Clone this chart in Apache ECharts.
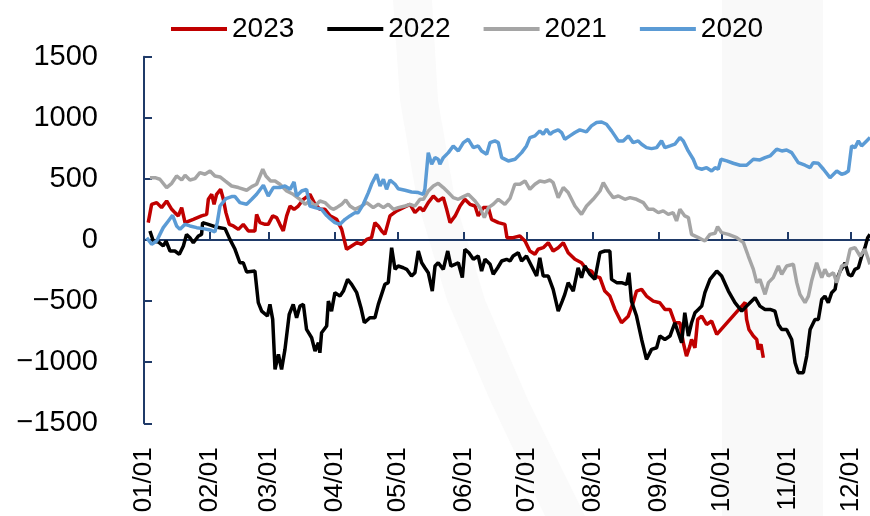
<!DOCTYPE html>
<html>
<head>
<meta charset="utf-8">
<script src="https://cdn.jsdelivr.net/npm/echarts@6/dist/echarts.min.js"></script>
<style>
html,body{margin:0;padding:0;background:#fff;}
#chart{width:870px;height:516px;}
</style>
</head>
<body>
<div id="chart"></div>
<script>
// ---- data (x = day of year, 0 = Jan 1; y = value) ----
const monthStarts = [0, 31, 59, 90, 120, 151, 181, 212, 243, 273, 304, 334];
const monthLabels = ['01/01','02/01','03/01','04/01','05/01','06/01','07/01','08/01','09/01','10/01','11/01','12/01'];
const seriesNames = ['2023', '2022', '2021', '2020'];

const s2023 = [[2,142],[3.6,292],[6,306],[8.3,265],[10.7,319],[13.1,251],[14.6,224],[16.2,197],[17.8,265],[19.4,142],[23.3,169],[27.2,197],[29.6,210],[30.4,333],[32,374],[33.1,292],[34.3,374],[36.2,415],[37.5,333],[38.7,224],[40.3,128],[42.2,115],[44.6,87],[46.9,128],[49.3,74],[52.4,74],[53.2,210],[54.8,142],[57.2,128],[58.7,128],[60.8,197],[62.7,183],[64.2,128],[65.8,74],[67.4,197],[69,278],[70.9,251],[72.9,278],[75.3,333],[78.4,374],[80.8,292],[83.1,251],[85.5,251],[87.9,197],[91,169],[93.4,87],[95.7,-76],[98.1,-49],[100.5,-22],[102.8,-35],[105.2,5],[107.5,19],[109.1,142],[110.7,115],[112.3,74],[113.8,46],[116.2,197],[119.4,238],[122.5,265],[125.7,292],[128,224],[130.4,265],[132,238],[134.3,306],[136.7,360],[139,319],[141.4,347],[143,251],[144.6,142],[147,197],[149.3,278],[151.6,333],[154,292],[156.4,278],[157.9,197],[160.3,265],[162.7,265],[164.2,169],[167.4,142],[170.5,128],[171.5,19],[174.4,19],[177.6,33],[180,-8],[182.3,-90],[184.7,-117],[186.2,-76],[188.6,-63],[191,-22],[193.3,-90],[195.7,-63],[198.1,-22],[200.4,-104],[203.6,-158],[206.7,-186],[209.1,-240],[211.4,-254],[213,-295],[215.4,-308],[217.7,-418],[220.1,-459],[222.5,-568],[225.6,-677],[228.8,-623],[231.1,-513],[232.7,-418],[235.1,-404],[237.4,-459],[240.6,-500],[243.7,-513],[246.1,-568],[248.5,-568],[250.8,-677],[253.2,-677],[254.8,-841],[256.3,-950],[257.9,-868],[258.7,-814],[260.3,-882],[261.6,-650],[263.5,-622],[265.8,-691],[268.2,-663],[270.6,-773],[284,-510],[284.7,-650],[285.8,-732],[287.9,-786],[289.5,-814],[290.2,-895],[291.5,-854],[292.6,-964]];

const s2022 = [[2.8,74],[4.4,-8],[6.8,-16],[9.1,-49],[10.4,-8],[12.3,-90],[14.6,-90],[16.7,-117],[18.6,-49],[20.1,46],[21.7,19],[23.3,-22],[25.7,33],[27.2,46],[27.7,142],[30.4,128],[33.5,109],[35.9,101],[38.3,93],[40.6,5],[43,-76],[45.3,-186],[46.9,-186],[48.5,-262],[52.4,-254],[54,-513],[55.6,-582],[58.3,-622],[59.5,-527],[60.8,-650],[61.9,-1059],[63.5,-936],[65,-1059],[66.6,-895],[68.6,-609],[70.5,-527],[72.1,-636],[73.7,-541],[75.3,-527],[76.8,-732],[79.2,-800],[80.8,-909],[82.4,-841],[83.1,-923],[83.9,-759],[86.3,-704],[87.1,-500],[88.6,-582],[90.2,-431],[92.6,-459],[94.2,-418],[96.2,-322],[98.1,-363],[100.5,-431],[102.5,-554],[104.1,-677],[106.7,-636],[109.1,-636],[110.7,-527],[113.8,-363],[115.4,-349],[117,-63],[118.6,-240],[120.1,-213],[122.5,-227],[124.1,-240],[126.4,-295],[128,-268],[129.6,-90],[131.2,-186],[132.7,-227],[134.3,-268],[136.2,-418],[137.5,-213],[139,-186],[141.4,-240],[143.5,-90],[145,-213],[146.9,-199],[148.5,-186],[150.4,-308],[151.6,-76],[153.5,-104],[155.6,-158],[157.9,-131],[159.5,-254],[161.1,-158],[163.5,-199],[165,-281],[167.1,-227],[169,-172],[171.3,-158],[172.9,-172],[174.4,-131],[176.8,-104],[178.4,-172],[180.7,-131],[183.1,-213],[185.5,-295],[187,-145],[188.6,-295],[191,-295],[193.3,-404],[195.7,-582],[197.6,-500],[198.8,-445],[200.4,-349],[202.8,-418],[205.1,-227],[206.7,-308],[208.3,-213],[210.7,-281],[213,-322],[215.4,-104],[217.7,-90],[220.1,-90],[220.9,-322],[223.3,-349],[225.6,-349],[228,-363],[229.1,-268],[230.3,-500],[232.7,-622],[235.1,-814],[237.4,-977],[239.8,-895],[242.2,-882],[243.7,-786],[246.1,-814],[248.5,-786],[250.8,-677],[252.4,-759],[254,-841],[255.5,-595],[257.2,-786],[258.7,-677],[260.3,-595],[261.9,-568],[263.5,-541],[265,-431],[267.4,-322],[270.6,-254],[272.9,-295],[276.1,-418],[279.2,-513],[282.4,-582],[284.7,-541],[286.3,-513],[288.7,-472],[291,-541],[293.4,-568],[295.8,-568],[298.1,-582],[299.7,-691],[301.3,-732],[303.6,-732],[306,-814],[307.6,-1004],[309.1,-1086],[311.5,-1086],[313.1,-950],[314.7,-732],[317,-650],[318.6,-650],[320.2,-486],[321.7,-459],[323.3,-513],[324.9,-431],[326.5,-404],[327.3,-322],[328.9,-254],[330.4,-213],[331.2,-186],[332.8,-281],[334.3,-295],[335.9,-240],[337.5,-227],[339.1,-131],[340.6,-63],[341.9,19],[343,46]];

const s2021 = [[2.8,510],[5.2,510],[7.5,497],[10.7,429],[13.1,464],[15.4,524],[17.8,491],[19.4,530],[21.7,491],[24.1,502],[26.4,551],[28.8,538],[31.2,565],[33.5,524],[35.9,516],[38.3,483],[41.4,442],[44.6,429],[48.5,407],[50.9,437],[53.2,456],[54.8,524],[56.1,579],[57.6,524],[59.8,483],[61.9,483],[64.2,456],[67.4,401],[70.5,374],[73.7,333],[76.1,292],[78.4,319],[80.8,278],[83.1,319],[85.5,306],[87.9,265],[89.4,251],[91,265],[93.4,292],[95.3,328],[97.3,278],[99.7,251],[102.8,278],[105.2,306],[108.3,265],[110.7,292],[113.1,265],[115.4,292],[117.8,251],[120.1,265],[123.3,278],[125.7,292],[128,278],[130.4,333],[132,333],[134.3,401],[136.7,442],[139,464],[141.4,429],[143.8,388],[146.1,347],[148.5,333],[150.9,355],[153.2,374],[156.4,319],[158.7,265],[160.8,183],[162.7,265],[165,292],[167.4,333],[170.5,292],[172.9,340],[175.2,456],[177.6,456],[180,483],[182.3,415],[184.7,456],[187,483],[189.4,475],[191.8,491],[193.3,470],[195.7,347],[198.1,429],[200.4,388],[203.6,278],[206.7,210],[209.1,278],[212.2,333],[215.4,401],[217,470],[219.3,401],[221.7,347],[224.1,360],[227.2,333],[229.6,347],[232.7,333],[235.9,306],[238.2,251],[240.6,251],[243,224],[245.3,238],[247.7,210],[250,224],[251.6,156],[253.2,251],[255.5,197],[257.2,183],[258.7,46],[261.9,19],[265,-8],[267.4,46],[269.8,55],[271,109],[272.9,60],[276.1,46],[280,19],[283.2,-22],[285.5,-131],[287.9,-240],[289.5,-349],[291,-322],[293.4,-445],[295,-349],[297.3,-308],[299.7,-213],[301.3,-281],[303.6,-213],[306.8,-199],[308.4,-349],[309.9,-445],[312.3,-513],[313.9,-459],[315.4,-336],[317.8,-186],[320.2,-308],[321.7,-240],[323.3,-295],[325.7,-268],[327.3,-349],[329.6,-213],[332,-199],[333.6,-76],[335.9,-63],[338.3,-131],[340.6,-76],[343,-199]];

const s2020 = [[1.3,19],[3.6,-35],[6,-8],[7.5,46],[9.1,101],[11.5,156],[13.5,202],[15.4,115],[17,87],[19.4,128],[21.7,115],[24.9,101],[28,93],[31.2,82],[33.5,66],[34.6,142],[35.9,278],[38.7,339],[41.4,355],[43,355],[45.3,306],[48.5,292],[50.9,333],[53.2,374],[56.4,448],[58.7,360],[61.1,429],[64.2,429],[66.6,442],[69,415],[70.9,475],[72.1,360],[74.5,401],[76.8,415],[78.4,278],[80.8,265],[83.9,251],[86.3,200],[87.9,175],[90.2,142],[92.6,128],[95,169],[97.3,197],[99.7,224],[101.2,224],[103.6,292],[106,388],[107.5,456],[109.9,538],[111.5,442],[113.1,497],[114.6,415],[116.2,491],[118.6,456],[120.1,420],[123.3,407],[126.4,393],[129.6,388],[131.9,374],[132.7,415],[134.3,715],[135.9,620],[137.5,674],[139,661],[139.8,620],[141.4,674],[143.8,715],[146.1,770],[148.5,729],[150.9,797],[153.2,824],[155.6,756],[157.9,770],[159.5,729],[161.9,702],[163.5,797],[165.8,811],[167.4,797],[169,674],[172.1,647],[175.3,661],[178.4,715],[180.7,770],[182.3,838],[184.7,852],[187,893],[188.6,865],[190.2,906],[191.8,865],[193.3,885],[195.7,901],[197.3,879],[198.8,824],[201.2,852],[203.6,879],[205.9,901],[209,885],[211.4,934],[213.8,961],[216.2,966],[218.5,947],[220.9,893],[222.5,852],[224.1,811],[226.4,811],[228.8,852],[231.1,797],[233.5,811],[235.1,784],[237.4,756],[239.8,748],[242.2,756],[244.5,811],[246.1,756],[248.5,770],[250.8,784],[253.2,838],[254.8,811],[257.1,729],[259.5,661],[261.1,592],[263.5,579],[265.8,592],[268.2,565],[269.8,592],[271.3,579],[272.6,661],[275.3,647],[278.4,628],[281.6,612],[284.7,612],[287.9,661],[291,655],[293.4,674],[295.8,688],[298.9,743],[301.3,729],[303.6,737],[306,715],[309.1,633],[312.3,612],[314.7,592],[316.2,633],[318.6,628],[321,579],[324.1,510],[327.3,565],[329.6,538],[331.2,546],[332.8,565],[334.3,770],[335.9,756],[337.5,811],[339,770],[341.4,811],[343,838]];

const seriesData = [s2023, s2022, s2021, s2020];
const colors = ['#C00000', '#000000', '#A5A5A5', '#5B9BD5'];

// ---- chart ----
const axisColor = '#1F3A68';
const font = '"Liberation Sans", Arial, sans-serif';
const chart = echarts.init(document.getElementById('chart'), null, {renderer: 'canvas'});

chart.setOption({
  animation: false,
  backgroundColor: '#ffffff',
  textStyle: {fontFamily: font},
  graphic: [
    {type: 'rect', z: -10, silent: true, shape: {x: 722, y: 0, width: 101, height: 516}, style: {fill: '#f9f9f9'}},
    {type: 'polygon', z: -10, silent: true,
     shape: {points: [[393,0],[432,0],[438,100],[455,200],[485,300],[528,400],[585,516],[545,516],[490,400],[447,300],[417,200],[400,100]]},
     style: {fill: '#fafafa'}}
  ],
  legend: {
    top: 10,
    left: 166,
    itemWidth: 56,
    itemHeight: 4,
    itemGap: 33,
    icon: 'rect',
    data: seriesNames,
    textStyle: {fontSize: 28, color: '#000', fontFamily: font}
  },
  grid: {left: 144, right: 0, top: 56.7, bottom: 92.7},
  xAxis: [
    {
      type: 'value', min: 0, max: 343, position: 'bottom',
      axisLine: {show: false, onZero: false},
      axisTick: {show: false},
      splitLine: {show: false},
      axisLabel: {
        customValues: monthStarts,
        formatter: function (v) { const i = monthStarts.indexOf(Math.round(v)); return i >= 0 ? monthLabels[i] : ''; },
        rotate: 90, fontSize: 26, color: '#000', margin: 24, fontFamily: font
      }
    },
    {
      type: 'value', min: 0, max: 343, position: 'top',
      axisLine: {show: true, onZero: true, lineStyle: {color: axisColor, width: 2}},
      axisTick: {show: true, customValues: monthStarts, inside: false, length: 8, lineStyle: {color: axisColor, width: 2}},
      axisLabel: {show: false},
      splitLine: {show: false}
    }
  ],
  yAxis: {
    type: 'value', min: -1500, max: 1500, interval: 500,
    axisLine: {show: true, onZero: false, lineStyle: {color: axisColor, width: 2}},
    axisTick: {show: true, inside: true, length: 8, lineStyle: {color: axisColor, width: 2}},
    axisLabel: {fontSize: 29, color: '#000', margin: 46, fontFamily: font,
      formatter: function (v) { return v < 0 ? '\u2212' + Math.abs(v) : String(v); }},
    splitLine: {show: false}
  },
  series: seriesNames.map(function (name, i) {
    return {
      name: name, type: 'line', xAxisIndex: 0, yAxisIndex: 0,
      data: seriesData[i], showSymbol: false, symbol: 'none',
      color: colors[i],
      lineStyle: {color: colors[i], width: 3.5},
      z: 2 + i
    };
  })
});
</script>
</body>
</html>
